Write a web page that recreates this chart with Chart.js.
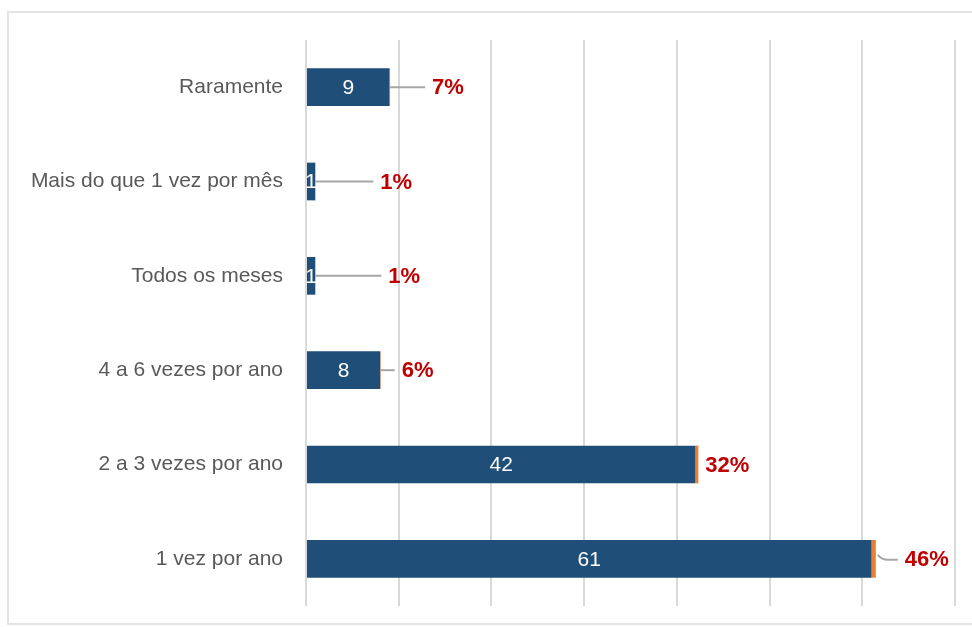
<!DOCTYPE html>
<html>
<head>
<meta charset="utf-8">
<script src="https://cdn.jsdelivr.net/npm/chart.js@4/dist/chart.umd.min.js"></script>
<style>
  html, body { margin: 0; padding: 0; background: #fff; overflow: hidden; }
  #wrap { position: relative; width: 972px; height: 627px; }
  #frame {
    position: absolute; left: 7px; top: 11px; width: 990px; height: 614px;
    border: 2px solid #e4e4e4; box-sizing: border-box;
  }
  #chart { position: absolute; left: 0; top: 0; }
</style>
</head>
<body>
<div id="wrap">
  <div id="frame"></div>
  <canvas id="chart" width="972" height="627"></canvas>
</div>
<script>
// Frequência: respostas e percentuais
const categorias = [
  "Raramente",
  "Mais do que 1 vez por mês",
  "Todos os meses",
  "4 a 6 vezes por ano",
  "2 a 3 vezes por ano",
  "1 vez por ano",
];
const respostas = [9, 1, 1, 8, 42, 61];
const percentuais = [7, 1, 1, 6, 32, 46];

// distância (px) entre o fim da barra e o rótulo de percentual
const afastamento = [42, 65, 73, 21, 7, 29];

const FONTE = "'Liberation Sans', Arial, sans-serif";

const rotulos = {
  id: "rotulos",
  afterDatasetsDraw(chart) {
    const c = chart.ctx;
    const barras = chart.getDatasetMeta(0).data;
    const fatias = chart.getDatasetMeta(1).data;
    c.save();
    c.textBaseline = "middle";

    barras.forEach((el, i) => {
      // valor dentro da barra
      c.fillStyle = "#ffffff";
      c.font = "21px " + FONTE;
      c.textAlign = "center";
      c.fillText(String(respostas[i]), (el.x + el.base) / 2, el.y + 1);

      // percentual à direita, com linha de chamada
      const fim = fatias[i].x;
      const xTexto = fim + afastamento[i];
      if (afastamento[i] > 12) {
        c.strokeStyle = "#a6a6a6";
        c.lineWidth = 2;
        c.beginPath();
        if (i === 5) {
          c.moveTo(fim + 2, el.y - 4);
          c.quadraticCurveTo(fim + 6, el.y + 1, fim + 12, el.y + 1);
          c.lineTo(xTexto - 7, el.y + 1);
        } else {
          c.moveTo(fim, el.y);
          c.lineTo(xTexto - 7, el.y);
        }
        c.stroke();
      }
      c.fillStyle = "#c00000";
      c.font = "bold 22px " + FONTE;
      c.textAlign = "left";
      c.fillText(percentuais[i] + "%", xTexto, el.y + 1);
    });
    c.restore();
  },
};

const chart = new Chart(document.getElementById("chart").getContext("2d"), {
  type: "bar",
  data: {
    labels: categorias,
    datasets: [
      {
        label: "Respostas",
        data: respostas,
        backgroundColor: "#1f4e79",
        borderWidth: 0,
        barPercentage: 0.4,
        categoryPercentage: 1,
      },
      {
        label: "Percentual",
        data: percentuais.map((p) => p / 100),
        backgroundColor: "#ed7d31",
        borderWidth: 0,
        barPercentage: 0.4,
        categoryPercentage: 1,
      },
    ],
  },
  options: {
    indexAxis: "y",
    responsive: false,
    animation: false,
    layout: { padding: { top: 40, right: 17, bottom: 21, left: 0 } },
    plugins: {
      legend: { display: false },
      tooltip: { enabled: false },
    },
    scales: {
      x: {
        stacked: true,
        min: 0,
        max: 70,
        ticks: { display: false, stepSize: 10 },
        grid: { color: "#d9d9d9", lineWidth: 2, drawTicks: false },
        border: { display: false },
        afterFit: (s) => {
          s.height = 0;
          s.paddingLeft = s.paddingRight = 0;
        },
      },
      y: {
        stacked: true,
        ticks: {
          color: "#595959",
          padding: 23,
          font: { family: FONTE, size: 21 },
        },
        grid: { display: false, drawTicks: false },
        border: { display: false },
        afterFit: (s) => {
          s.width = 306;
          s.paddingTop = s.paddingBottom = 0;
        },
      },
    },
  },
  plugins: [rotulos],
});
</script>
</body>
</html>
